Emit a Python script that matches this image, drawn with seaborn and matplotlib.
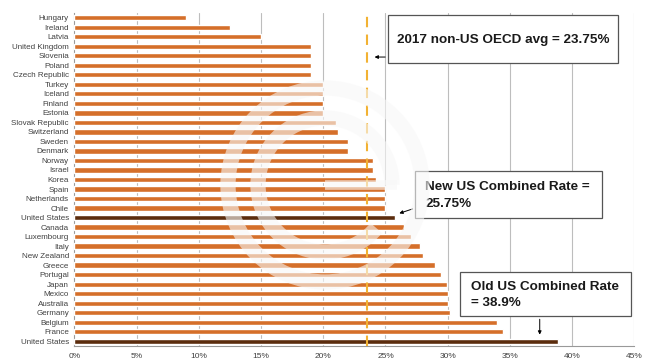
import matplotlib
matplotlib.use("Agg")
import matplotlib.pyplot as plt
from matplotlib.patches import Rectangle, Arc, Circle
import seaborn as sns
import pandas as pd
import numpy as np

countries = ["Hungary", "Ireland", "Latvia", "United Kingdom", "Slovenia", "Poland",
             "Czech Republic", "Turkey", "Iceland", "Finland", "Estonia", "Slovak Republic",
             "Switzerland", "Sweden", "Denmark", "Norway", "Israel", "Korea", "Spain",
             "Netherlands", "Chile", "United States", "Canada", "Luxembourg", "Italy",
             "New Zealand", "Greece", "Portugal", "Japan", "Mexico", "Australia", "Germany",
             "Belgium", "France", "United States"]
rates = [9.0, 12.5, 15.0, 19.0, 19.0, 19.0, 19.0, 20.0, 20.0, 20.0, 20.0, 21.0,
         21.15, 22.0, 22.0, 24.0, 24.0, 24.2, 25.0, 25.0, 25.0, 25.75, 26.5, 27.08,
         27.8, 28.0, 29.0, 29.5, 29.97, 30.0, 30.0, 30.2, 34.0, 34.43, 38.9]
kinds = ["other"] * 21 + ["us"] + ["other"] * 12 + ["us"]
avg_line = 23.5
xticks = [0, 5, 10, 15, 20, 25, 30, 35, 40, 45]
xtick_labels = ["0%", "5%", "10%", "15%", "20%", "25%", "30%", "35%", "40%", "45%"]

df = pd.DataFrame({"key": [f"r{i}" for i in range(len(countries))],
                   "rate": rates, "kind": kinds})

sns.set_style("white")
plt.rcParams["font.family"] = ["Liberation Sans", "DejaVu Sans"]

fig = plt.figure(figsize=(6.5, 3.64), dpi=100)
ax = fig.add_axes([0.1146, 0.0495, 0.8612, 0.9148])

sns.barplot(data=df, x="rate", y="key", hue="kind", orient="h",
            palette={"other": "#D56F2A", "us": "#5B2C0D"}, width=0.55,
            saturation=1, legend=False, ax=ax, zorder=3)

ax.set_xlim(0, 45)
ax.set_ylim(len(countries) - 0.5, -0.5)
ax.set_xticks(xticks)
ax.set_xticklabels(xtick_labels, fontsize=6, color="#404040")
ax.set_yticks(range(len(countries)))
ax.set_yticklabels(countries, fontsize=5.8, color="#404040")
ax.set_xlabel("")
ax.set_ylabel("")
for x in xticks[1:]:
    ax.axvline(x, color="#BDBDBD", lw=0.8, zorder=1)
for s in ["top", "right"]:
    ax.spines[s].set_visible(False)
ax.spines["left"].set_color("#999999")
ax.spines["bottom"].set_color("#999999")
ax.tick_params(axis="both", length=3, color="#999999", pad=2)
ax.tick_params(axis="y", length=2.5, pad=1.5)

ax.axvline(avg_line, color="#F2B233", lw=1.5, ls=(0, (5, 3.5)), zorder=4)

def box(x0, x1, y0, y1):
    ax.add_patch(Rectangle((x0, y0), x1 - x0, y1 - y0, facecolor="white",
                           edgecolor="#555555", lw=0.9, zorder=6))

box(25.2, 43.7, -0.3, 4.75)
ax.text(34.45, 2.35, "2017 non-US OECD avg = 23.75%", ha="center", va="center",
        fontsize=9.7, fontweight="bold", color="#1A1A1A", zorder=7)
ax.annotate("", xy=(23.9, 4.13), xytext=(25.2, 4.13),
            arrowprops=dict(arrowstyle="-|>", color="black", lw=0.7,
                            mutation_scale=5), zorder=7)

box(27.4, 42.4, 16.1, 21.1)
ax.text(28.2, 17.8, "New US Combined Rate =", ha="left", va="center",
        fontsize=9.7, fontweight="bold", color="#1A1A1A", zorder=7)
ax.text(28.2, 19.6, "25.75%", ha="left", va="center",
        fontsize=9.7, fontweight="bold", color="#1A1A1A", zorder=7)
ax.annotate("", xy=(25.9, 20.65), xytext=(27.4, 20.0),
            arrowprops=dict(arrowstyle="-|>", color="black", lw=0.7,
                            mutation_scale=5), zorder=7)

box(31.0, 44.7, 26.7, 31.4)
ax.text(31.85, 28.3, "Old US Combined Rate", ha="left", va="center",
        fontsize=9.7, fontweight="bold", color="#1A1A1A", zorder=7)
ax.text(31.85, 30.0, "= 38.9%", ha="left", va="center",
        fontsize=9.7, fontweight="bold", color="#1A1A1A", zorder=7)
ax.annotate("", xy=(37.4, 33.6), xytext=(37.4, 31.4),
            arrowprops=dict(arrowstyle="-|>", color="black", lw=0.7,
                            mutation_scale=5), zorder=7)

# faint watermark overlay in pixel coordinates
ov = fig.add_axes([0, 0, 1, 1], zorder=5)
ov.set_xlim(0, 650)
ov.set_ylim(364, 0)
ov.set_aspect("equal")
ov.axis("off")
ov.patch.set_alpha(0)
wm = dict(color="#F8F8F8", alpha=0.6)
cx, cy = 325, 185
ov.add_patch(Circle((cx, cy), 97, fill=False, lw=11, **wm))
ov.add_patch(Arc((cx, cy), 134, 134, theta1=40, theta2=360, lw=11, **wm))
ov.plot([cx, cx + 72], [cy, cy], lw=7, solid_capstyle="butt", **wm)

fig.savefig("out.png", dpi=100)
